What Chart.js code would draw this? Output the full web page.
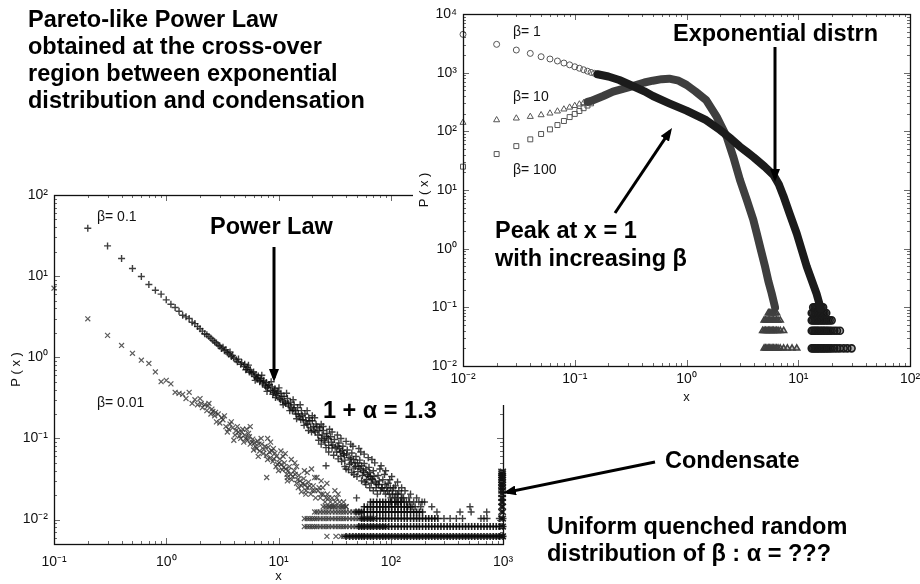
<!DOCTYPE html>
<html>
<head>
<meta charset="utf-8">
<title>P(x) for quenched beta</title>
<script src="https://cdn.jsdelivr.net/npm/chart.js@4.4.1/dist/chart.umd.min.js"></script>
<style>
  body { margin: 0; width: 920px; height: 584px; background: #fff; position: relative; overflow: hidden;
         font-family: 'Liberation Sans', Arial, Helvetica, sans-serif; }
  #lowerChart { position: absolute; left: 0; top: 185px; z-index: 1; }
  #upperBox { position: absolute; left: 413px; top: 0; width: 507px; height: 405px; background: #fff; z-index: 2; }
  .note { position: absolute; z-index: 4; font-weight: bold; font-size: 23.5px; line-height: 27px; color: #000; white-space: nowrap; }
  .tag { position: absolute; z-index: 4; font-size: 14px; line-height: 15px; color: #111; white-space: nowrap; }
  #arrows { position: absolute; left: 0; top: 0; z-index: 3; }
</style>
</head>
<body>
<canvas id="lowerChart" width="515" height="399"></canvas>
<div id="upperBox"><canvas id="upperChart" width="507" height="405"></canvas></div>

<svg id="arrows" width="920" height="584">
  <defs>
    <marker id="head" viewBox="0 0 13 10" refX="9" refY="5" markerWidth="13" markerHeight="10"
            orient="auto" markerUnits="userSpaceOnUse">
      <path d="M0,0 L13,5 L0,10 z" fill="#000"/>
    </marker>
  </defs>
  <g stroke="#000" stroke-width="3" marker-end="url(#head)">
    <line x1="274" y1="247" x2="274" y2="378"/>
    <line x1="775" y1="47" x2="775" y2="178"/>
    <line x1="615" y1="213" x2="669.8" y2="131.3"/>
    <line x1="655" y1="462" x2="506.9" y2="492.2"/>
  </g>
</svg>

<div class="note" style="left:28px; top:6px;">Pareto-like Power Law<br>obtained at the cross-over<br>region between exponential<br>distribution and condensation</div>
<div class="note" style="left:210px; top:213px;">Power Law</div>
<div class="note" style="left:673px; top:20px;">Exponential distrn</div>
<div class="note" style="left:495px; top:216px; line-height:28px;">Peak at x = 1<br>with increasing β</div>
<div class="note" style="left:323px; top:397px;">1 + α = 1.3</div>
<div class="note" style="left:665px; top:447px;">Condensate</div>
<div class="note" style="left:547px; top:513px;">Uniform quenched random<br>distribution of β : α = ???</div>

<div class="tag" style="left:97px; top:209px;">β= 0.1</div>
<div class="tag" style="left:97px; top:395px;">β= 0.01</div>
<div class="tag" style="left:513px; top:24px;">β= 1</div>
<div class="tag" style="left:513px; top:89px;">β= 10</div>
<div class="tag" style="left:513px; top:162px;">β= 100</div>

<script>
// ---- axis ticks (powers of ten) ----
const lowerXTicks = [0.1, 1, 10, 100, 1000];
const lowerYTicks = [0.01, 0.1, 1, 10, 100];
const upperXTicks = [0.01, 0.1, 1, 10, 100];
const upperYTicks = [0.01, 0.1, 1, 10, 100, 1000, 10000];

// ---- lower panel: beta = 0.1 ('+') ----
const beta01Points = [
  [0.2,39],[0.3,23.6],[0.4,16.5],[0.5,12.4],[0.6,9.9],[0.7,7.9],[0.8,6.7],[0.9,6.0],[1.0,5.1],[1.1,4.5],
  [1.2,4.1],[1.3,3.7],[1.4,3.3],[1.5,3.15],[1.6,3.0],[1.7,2.7],[1.8,2.6],[1.9,2.4],[2.0,2.25],[2.1,2.1],
  [2.2,1.95],[2.3,1.9],[2.4,1.8],[2.5,1.72],[2.6,1.62],[2.7,1.55],[2.8,1.5],[2.9,1.42],[3.0,1.38],[3.1,1.28],
  [3.2,1.33],[3.3,1.2],[3.4,1.24],[3.5,1.14],[3.6,1.1],[3.7,1.16],[3.8,1.02],[3.9,1.05],[4.0,0.98],[4.2,0.93],
  [4.3,0.88],[4.4,0.95],[4.6,0.82],[4.7,0.86],[4.9,0.77],[5.0,0.82],[5.2,0.71],[5.3,0.75],[5.5,0.66],[5.6,0.7],
  [5.8,0.63],[6.0,0.66],[6.1,0.58],[6.3,0.61],[6.5,0.54],[6.6,0.59],[6.8,0.5],[7.0,0.55],[7.2,0.47],[7.4,0.52],
  [7.6,0.45],[7.8,0.49],[8.0,0.42],[8.3,0.46],[8.5,0.39],[8.8,0.43],[9.0,0.37],[9.3,0.41],[9.6,0.34],[9.9,0.38],
  [10.2,0.31],[10.5,0.36],[10.9,0.29],[11.2,0.33],[11.6,0.27],[12.0,0.31],[12.4,0.25],[12.8,0.28],[13.3,0.22],[13.8,0.26],
  [14.3,0.2],[14.8,0.24],[15.4,0.185],[16.0,0.22],[16.6,0.17],[17.2,0.2],[17.9,0.15],[18.6,0.18],[19.3,0.135],[20.0,0.165],
  [20.8,0.125],[21.6,0.15],[22.4,0.11],[23.3,0.135],[24.2,0.1],[25.1,0.125],[26,0.09],[27,0.115],[28,0.082],[29,0.105],
  [30,0.076],[31.5,0.097],[33,0.068],[34.5,0.088],[36,0.06],[37.5,0.08],[39,0.054],[41,0.072],[43,0.048],[45,0.066],
  [47,0.043],[49,0.06],[51,0.039],[53,0.054],[56,0.035],[58,0.049],[61,0.031],[64,0.044],[67,0.028],[70,0.04],
  [74,0.0247],[77,0.035],[81,0.0227],[85,0.031],[90,0.0206],[95,0.028],[100,0.0185],[106,0.0247],[112,0.0165],[118,0.0227],
  [126,0.0185],[134,0.0227],[142,0.0144],[150,0.0206],[160,0.0165],[170,0.0185],[185,0.0144],[200,0.0165],[232,0.0144],[258,0.0124],
  [5.4,0.8],[6.2,0.52],[7.1,0.6],[7.9,0.38],[8.6,0.5],[9.4,0.32],[10.1,0.42],[11,0.26],[11.8,0.36],[12.6,0.22],
  [13.5,0.3],[14.5,0.175],[15.6,0.26],[16.9,0.145],[18,0.22],[19.7,0.12],[21,0.18],[22.8,0.095],[24,0.15],[26.5,0.077],
  [28.5,0.13],[31,0.062],[33.5,0.11],[36.5,0.052],[40,0.092],[42,0.041],[46,0.08],[50,0.034],[54,0.068],[59,0.029],
  [63,0.058],[72,0.05],[80,0.042],[88,0.036],[98,0.031],[110,0.026],
  [35,0.075],[38,0.065],[44,0.056],[48,0.05],[52,0.045],[57,0.04],[62,0.036],[66,0.034],[69,0.031],[73,0.029],
  [78,0.027],[83,0.0247],[87,0.0227],[92,0.0247],[97,0.0206],[103,0.0227],[108,0.0185],[115,0.0206],[122,0.0165],[130,0.0185],
  [138,0.0165],[145,0.0185],
  [5.1,0.7],[5.7,0.66],[6.4,0.56],[6.9,0.52],[7.3,0.5],[7.7,0.43],[8.1,0.45],[8.9,0.35],[9.2,0.39],[9.7,0.36],
  [10.4,0.3],[10.7,0.33],[11.4,0.28],[12.2,0.27],[12.9,0.24],[13.6,0.23],[14.1,0.22],[15.0,0.2],[15.8,0.17],[16.3,0.19],
  [17.5,0.165],[18.3,0.15],[19,0.165],[20.5,0.14],[21.3,0.12],[22,0.14],[23,0.125],[24.5,0.11],[25.5,0.095],[26.8,0.105],
  [27.8,0.1],[29.5,0.09],[30.5,0.083],[32,0.078],[33.8,0.08],[35.5,0.068],[37,0.071],[38.5,0.062],[40.5,0.064],[42.5,0.058],
  [44.5,0.05],[46.5,0.055],[48.5,0.045],[50.5,0.05],[53.5,0.042],[55,0.046],[57.5,0.038],[60,0.042],[63,0.034],[65,0.038],
  [68,0.032],[71,0.034],[75,0.027],[79,0.03],[84,0.0247],[89,0.027],[94,0.0227],[99,0.0247],[104,0.0206],[111,0.0206],
  [116,0.0185],[124,0.0206],[132,0.0165],[147,0.0165],[155,0.0144],[165,0.0144],[178,0.0165],[190,0.0165],
  [18.5,0.125],[20,0.19],[24,0.085],[25,0.14],[28,0.068],[30,0.12],[34,0.056],[36,0.1],[39,0.045],[44,0.085],
  [47,0.036],[52,0.075],[55,0.03],[58,0.064],[65,0.0247],[68,0.055],[76,0.0206],[82,0.046],[90,0.04],[102,0.034],
  [115,0.029],[125,0.0247],[60,0.027],[70,0.0227],[100,0.0165],[45,0.038],[40,0.042],
  [26.5,0.046],[49.6,0.0185],[414,0.0124],[508,0.0144],[520,0.0124],[716,0.0124],
  [298,0.0103],[338,0.0103],[384,0.0103],[436,0.0103],[636,0.0103],[677,0.0103],[721,0.0103],[928,0.0103],[1000,0.0103]
];

// ---- lower panel: beta = 0.01 ('x') ----
const beta001Points = [
  [0.1,7.1],[0.2,2.98],[0.3,1.86],[0.4,1.4],[0.5,1.12],[0.6,0.92],[0.7,0.84],[0.8,0.66],[0.9,0.5],[1.0,0.52],
  [1.1,0.47],[1.2,0.37],[1.3,0.36],[1.4,0.35],[1.5,0.31],[1.6,0.37],[1.7,0.27],[1.8,0.3],[1.9,0.26],[2.0,0.31],
  [2.1,0.24],[2.2,0.26],[2.3,0.22],[2.4,0.27],[2.5,0.2],[2.6,0.215],[2.7,0.19],[2.8,0.16],[2.9,0.2],[3.0,0.155],
  [3.2,0.17],[3.4,0.14],[3.5,0.12],[3.7,0.15],[3.9,0.135],[4.1,0.11],[4.3,0.14],[4.5,0.107],[4.7,0.12],[4.9,0.09],
  [5.1,0.1],[5.4,0.115],[5.6,0.085],[5.9,0.098],[6.2,0.08],[6.5,0.093],[6.8,0.07],[7.1,0.085],[7.4,0.073],[7.8,0.062],
  [8.1,0.078],[8.5,0.058],[8.9,0.052],[9.3,0.066],[9.8,0.048],[10.3,0.056],[10.8,0.041],[11.3,0.05],[11.9,0.036],[12.5,0.045],
  [13.1,0.031],[13.8,0.04],[14.5,0.028],[15.2,0.035],[16,0.026],[16.8,0.032],[17.6,0.0227],[18.5,0.029],[19.4,0.0206],[20.4,0.026],
  [21.4,0.0185],[22.5,0.0227],[23.6,0.0185],[24.8,0.0247],[26,0.0165],[27.3,0.0206],[28.7,0.0144],[30,0.0185],[32,0.0165],[34,0.0206],
  [37,0.0144],[3.3,0.19],[4.0,0.095],[5.2,0.13],[6.0,0.072],[7.0,0.1],[8.0,0.055],[9.0,0.075],[10,0.04],[11,0.06],
  [12,0.033],[14,0.05],[15,0.0247],[17,0.04],[20,0.0227],[22,0.033],[25,0.0206],[27,0.028],
  [2.05,0.27],[2.35,0.25],[2.55,0.23],[2.75,0.21],[3.1,0.18],[3.6,0.13],[3.8,0.16],[4.2,0.125],[4.4,0.12],[4.6,0.1],
  [4.8,0.13],[5.0,0.11],[5.3,0.095],[5.5,0.105],[5.8,0.09],[6.1,0.088],[6.4,0.075],[6.7,0.085],[7.3,0.065],[7.6,0.08],
  [8.3,0.068],[8.7,0.07],[9.1,0.056],[9.6,0.06],[10.1,0.05],[10.6,0.048],[11.1,0.044],[11.6,0.042],[12.2,0.04],[12.8,0.036],
  [13.4,0.034],[14.1,0.036],[14.8,0.031],[15.6,0.03],[16.4,0.028],[17.2,0.027],[18,0.0247],[19,0.026],[21,0.0227],[23,0.0247],
  [24,0.0206],[26.5,0.0185],[28,0.0185],[29,0.0165],[31,0.0144],[33,0.0185],[35,0.0165],[38,0.0165],[40,0.0144],
  [5.6,0.14],[6.6,0.06],[8,0.1],[9.5,0.045],[10.5,0.07],[12,0.03],[13,0.055],[16,0.022],[18,0.038],[21,0.033],
  [24,0.03],[8.5,0.09],[11.5,0.065],[14.5,0.045],[17.5,0.0206],
  [19.7,0.042],[7.85,0.033],[31.8,0.0227],[27,0.0062],[32.5,0.0062]
];

// x positions occupied along the discrete low-count rows
const rowGrid = [17, 18, 19, 20, 21, 22, 23.5, 25, 26.5, 28, 30, 32, 34, 36, 38, 40, 43, 46, 49, 52,
  55, 58, 62, 66, 70, 75, 80, 85, 90, 96, 102, 109, 116, 124, 132, 140, 150, 160, 170, 180,
  192, 205, 218, 232, 247, 263, 280, 298, 318, 338, 360, 384, 409, 436, 464, 494, 526, 560, 597, 636,
  677, 721, 768, 818, 871, 928, 1000];
// [level, first x, last x]
const beta01Rows = [[0.0062, 40, 1000], [0.0082, 52, 1000], [0.0103, 55, 263], [0.0124, 49, 192], [0.0144, 58, 150], [0.0165, 66, 124]];
const beta001Rows = [[0.0062, 36, 1000], [0.0082, 17, 90], [0.0103, 17, 70], [0.0124, 21, 55], [0.0144, 25, 40]];

// condensate column at the system size
const condensateXs = [965, 1000];
const condensateLevels = [0.0062, 0.0082, 0.0103, 0.0124, 0.0144, 0.0165, 0.0185, 0.0206, 0.0227, 0.0247,
  0.0268, 0.0288, 0.0309, 0.033, 0.035, 0.037, 0.039];

// ---- upper panel ----
const beta1Open = [[0.01,4500],[0.02,3040],[0.03,2430],[0.04,2130],[0.05,1870],[0.06,1710],[0.07,1580],[0.08,1460],
  [0.09,1360],[0.1,1260],[0.11,1190],[0.12,1120],[0.13,1060],[0.14,1010],[0.15,975],[0.16,940],[0.17,910]];
const beta1Band = [[0.16,940],[0.2,860],[0.25,750],[0.33,593],[0.42,480],[0.5,400],[0.7,300],[1.0,225],[1.5,155],
  [2.0,105],[2.5,75],[3.0,55],[3.5,44],[4.0,36],[5.0,25],[6.0,18],[6.7,12.5],[7.35,8],[8.43,3.8],[9.7,1.8],
  [11.9,0.5],[14.6,0.17],[15.9,0.095]];
const beta10Open = [[0.01,141],[0.02,156],[0.03,167],[0.04,178],[0.05,190],[0.06,203],[0.07,220],[0.08,238],
  [0.09,256],[0.1,273],[0.11,290],[0.12,305]];
const beta100Open = [[0.01,25],[0.02,41],[0.03,56],[0.04,73],[0.05,90],[0.06,108],[0.07,128],[0.08,150],
  [0.09,175],[0.1,198],[0.11,222],[0.12,248],[0.13,275],[0.14,300]];
const peakBand = [[0.13,318],[0.14,330],[0.18,400],[0.22,474],[0.28,540],[0.33,590],[0.42,680],[0.5,730],[0.6,775],
  [0.7,790],[0.85,730],[1.0,620],[1.2,480],[1.5,340],[1.86,178],[2.29,81],[2.62,37],[3.01,14.8],[3.46,6.8],
  [3.96,3.1],[4.25,1.83],[4.6,1.0],[5.05,0.49],[5.4,0.28],[5.78,0.174],[6.2,0.1]];

const upperRowGrid = [4.8, 4.95, 5.1, 5.25, 5.4, 5.55, 5.7, 5.85, 6.0, 6.2, 6.4, 6.6, 6.9, 7.4, 8.0, 8.8, 9.7,
  13.2, 13.6, 14.0, 14.4, 14.8, 15.2, 15.7, 16.2, 16.7, 17.2, 17.8, 18.4, 19.1, 19.9, 21, 22.2, 23.6, 25.5, 27.5, 30];
const peakRows = [[0.08, 5.4, 6.4], [0.06, 4.95, 6.9], [0.04, 4.8, 7.4], [0.02, 4.95, 9.7]];
const beta1Rows = [[0.1, 13.6, 16.7], [0.08, 13.2, 17.8], [0.06, 13.2, 19.9], [0.04, 13.2, 23.6], [0.02, 13.2, 30]];

Chart.defaults.font.family = "'Liberation Sans', Arial, Helvetica, sans-serif";
Chart.defaults.color = '#111';

function toPoints(pairs) {
  return pairs.map(([x, y]) => ({ x, y }));
}

function rowPoints(grid, rows) {
  const pts = [];
  rows.forEach(([level, from, to]) => {
    grid.forEach(x => { if (x >= from && x <= to) pts.push({ x, y: level }); });
  });
  return pts;
}

// one dataset per row so the bar between its markers can be stroked
function rowSets(grid, rows, style) {
  return rows.map(r => Object.assign({ data: rowPoints(grid, [r]), showLine: true }, style));
}

const sup = { '-': '⁻', '0': '⁰', '1': '¹', '2': '²', '3': '³', '4': '⁴' };
function powLabel(v) {
  const e = Math.round(Math.log10(v));
  return '10' + String(e).split('').map(c => sup[c]).join('');
}

// decade + 2..9 positions between min and max
function logMarks(min, max) {
  const out = [];
  for (let d = Math.floor(Math.log10(min)); d <= Math.ceil(Math.log10(max)); d++) {
    for (let k = 1; k <= 9; k++) {
      const v = k * Math.pow(10, d);
      if (v >= min * 0.999 && v <= max * 1.001) out.push({ v, major: k === 1 });
    }
  }
  return out;
}

// boxed frame with inward ticks on all four sides
const frameTicks = {
  id: 'frameTicks',
  afterDraw(chart) {
    const { ctx, chartArea: a } = chart;
    const sx = chart.scales.x, sy = chart.scales.y;
    ctx.save();
    ctx.strokeStyle = '#444';
    ctx.lineWidth = 0.8;
    ctx.beginPath();
    logMarks(sx.min, sx.max).forEach(m => {
      const p = Math.round(sx.getPixelForValue(m.v)) + 0.5, len = m.major ? 6 : 3;
      ctx.moveTo(p, a.bottom); ctx.lineTo(p, a.bottom - len);
      ctx.moveTo(p, a.top); ctx.lineTo(p, a.top + len);
    });
    logMarks(sy.min, sy.max).forEach(m => {
      const p = Math.round(sy.getPixelForValue(m.v)) + 0.5, len = m.major ? 6 : 3;
      ctx.moveTo(a.left, p); ctx.lineTo(a.left + len, p);
      ctx.moveTo(a.right, p); ctx.lineTo(a.right - len, p);
    });
    ctx.stroke();
    ctx.strokeStyle = '#111';
    ctx.lineWidth = 1.3;
    ctx.strokeRect(Math.round(a.left) + 0.5, Math.round(a.top) + 0.5,
      Math.round(a.right - a.left), Math.round(a.bottom - a.top));
    ctx.restore();
  }
};

function logAxis(min, max, tickList, fit, pad, titlePad, text) {
  return {
    type: 'logarithmic',
    min, max,
    afterBuildTicks: s => { s.ticks = tickList.map(v => ({ value: v })); },
    afterFit: s => {
      fit(s);
      // keep the plot box where the layout padding puts it
      s.paddingLeft = 0; s.paddingRight = 0; s.paddingTop = 0; s.paddingBottom = 0;
    },
    grid: { display: false, drawTicks: false },
    border: { display: false },
    ticks: { callback: powLabel, font: { size: 14 }, color: '#111', padding: pad, maxRotation: 0, autoSkip: false },
    title: { display: true, text, font: { size: 13 }, color: '#111', padding: { top: titlePad, bottom: 0 } }
  };
}

const commonOpts = {
  responsive: false,
  animation: false,
  devicePixelRatio: 1,
  plugins: { legend: { display: false }, tooltip: { enabled: false } }
};

const plusRowStyle = { pointStyle: 'cross', pointRadius: 3.5, borderWidth: 1.6, borderColor: 'rgba(10,10,10,0.9)', clip: false, order: 2 };
const crossRowStyle = { pointStyle: 'crossRot', pointRadius: 3.5, borderWidth: 1.2, borderColor: 'rgba(60,60,60,0.85)', clip: false, order: 4 };

// lower panel: beta = 0.1 and 0.01
new Chart(document.getElementById('lowerChart'), {
  type: 'scatter',
  data: {
    datasets: [
      {
        data: toPoints(condensateXs.flatMap(x => condensateLevels.map(y => [x, y]))),
        pointStyle: 'crossRot', pointRadius: 4, borderWidth: 1.5,
        borderColor: 'rgba(15,15,15,0.9)', clip: false, order: 1
      },
      {
        data: toPoints(beta01Points),
        pointStyle: 'cross', pointRadius: 3.5, borderWidth: 1.4,
        borderColor: 'rgba(15,15,15,0.8)', clip: false, order: 3
      },
      {
        data: toPoints(beta001Points),
        pointStyle: 'crossRot', pointRadius: 3.5, borderWidth: 1.2,
        borderColor: 'rgba(50,50,50,0.8)', clip: false, order: 5
      }
    ].concat(rowSets(rowGrid, beta01Rows, plusRowStyle), rowSets(rowGrid, beta001Rows, crossRowStyle))
  },
  options: Object.assign({}, commonOpts, {
    layout: { padding: { top: 10, right: 12, left: 0, bottom: 0 } },
    scales: {
      x: logAxis(0.1, 1000, lowerXTicks, s => { s.height = 40; }, 10, 0, 'x'),
      y: logAxis(0.005, 100, lowerYTicks, s => { s.width = 54; }, 6, 9, 'P ( x )')
    }
  }),
  plugins: [frameTicks]
});

// upper panel: beta = 1, 10, 100
new Chart(document.getElementById('upperChart'), {
  type: 'scatter',
  data: {
    datasets: [
      {
        data: toPoints(beta1Band), showLine: true, borderWidth: 8, borderColor: '#1b1b1b',
        borderCapStyle: 'round', borderJoinStyle: 'round', pointRadius: 0, order: 1
      },
      {
        data: rowPoints(upperRowGrid, beta1Rows), pointStyle: 'circle', pointRadius: 3.5,
        borderWidth: 1.6, borderColor: '#1b1b1b', backgroundColor: 'rgba(20,20,20,0.35)', order: 2
      },
      {
        data: toPoints(peakBand), showLine: true, borderWidth: 8, borderColor: '#3e3e3e',
        borderCapStyle: 'round', borderJoinStyle: 'round', pointRadius: 0, order: 3
      },
      {
        data: rowPoints(upperRowGrid, peakRows), pointStyle: 'triangle', pointRadius: 3.5,
        borderWidth: 1.5, borderColor: '#404040', backgroundColor: 'rgba(60,60,60,0.35)', order: 4
      },
      {
        data: toPoints(beta1Open), pointStyle: 'circle', pointRadius: 3, borderWidth: 1,
        borderColor: '#555', backgroundColor: 'rgba(0,0,0,0)', clip: false, order: 5
      },
      {
        data: toPoints(beta10Open), pointStyle: 'triangle', pointRadius: 3.5, borderWidth: 1,
        borderColor: '#555', backgroundColor: 'rgba(0,0,0,0)', clip: false, order: 6
      },
      {
        data: toPoints(beta100Open), pointStyle: 'rect', pointRadius: 3.5, borderWidth: 1,
        borderColor: '#555', backgroundColor: 'rgba(0,0,0,0)', clip: false, order: 7
      }
    ]
  },
  options: Object.assign({}, commonOpts, {
    layout: { padding: { top: 14, right: 10, left: 0, bottom: 0 } },
    scales: {
      x: logAxis(0.01, 100, upperXTicks, s => { s.height = 39; }, 5, 0, 'x'),
      y: logAxis(0.01, 10000, upperYTicks, s => { s.width = 50; }, 6, 4, 'P ( x )')
    }
  }),
  plugins: [frameTicks]
});
</script>
</body>
</html>
